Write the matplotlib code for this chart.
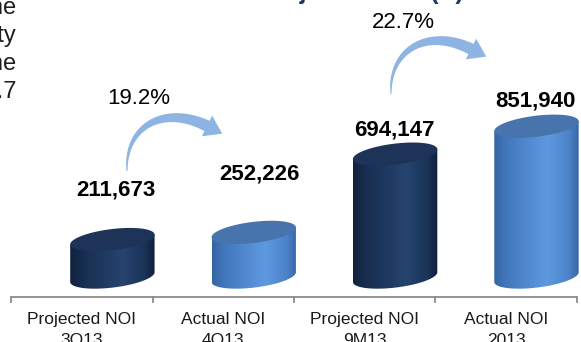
import numpy as np
import matplotlib
matplotlib.use("Agg")
import matplotlib.pyplot as plt
from matplotlib.path import Path
from matplotlib.patches import PathPatch, Polygon
from matplotlib.colors import LinearSegmentedColormap

plt.rcParams["font.family"] = ["Liberation Sans", "DejaVu Sans"]

# ---- data -------------------------------------------------------------
categories = ["Projected NOI\n3Q13", "Actual NOI\n4Q13",
              "Projected NOI\n9M13", "Actual NOI\n2013"]
noi = [211673, 252226, 694147, 851940]
value_labels = ["211,673", "252,226", "694,147", "851,940"]
series_kind = ["projected", "actual", "projected", "actual"]
growth_labels = ["19.2%", "22.7%"]
side_text = ["in line", "property", "baseline", "P1.7"]
title = "Actual vs. Projected NOI (\u20b1)"

# ---- layout -----------------------------------------------------------
W, H = 581, 342
fig = plt.figure(figsize=(W / 100, H / 100), dpi=100)
ax = fig.add_axes([0, 0, 1, 1])
XLIM = (-0.58, 3.53)
YLIM = (-367000, 1565000)
px_x = W / (XLIM[1] - XLIM[0])          # pixels per category unit
px_y = H / (YLIM[1] - YLIM[0])          # pixels per NOI unit

cyl_shift = 0.215                        # cylinders sit right of the category centre
A, B, TILT = 42.5, 10.5, np.deg2rad(7)   # ellipse radii (px) and tilt

cmaps = {
    "projected": LinearSegmentedColormap.from_list(
        "proj", [(0, "#10213d"), (0.15, "#182e50"), (0.62, "#25446e"),
                 (0.88, "#1a3358"), (1, "#0f203b")]),
    "actual": LinearSegmentedColormap.from_list(
        "act", [(0, "#3465a5"), (0.15, "#4377bd"), (0.62, "#5e99e0"),
                (0.88, "#4c83c9"), (1, "#3866a6")]),
}
top_colors = {"projected": "#1d3357", "actual": "#4874ad"}


def ellipse(cx, cy, t):
    t = np.asarray(t, dtype=float)
    dx = A * np.cos(t) * np.cos(TILT) - B * np.sin(t) * np.sin(TILT)
    dy = A * np.cos(t) * np.sin(TILT) + B * np.sin(t) * np.cos(TILT)
    return np.column_stack([cx + dx / px_x, cy + dy / px_y])


grad = np.linspace(0, 1, 256)[None, :]
for i, (v, kind) in enumerate(zip(noi, series_kind)):
    cx = i + cyl_shift
    # body: straight sides plus the front half of the base ellipse
    top_ends = ellipse(cx, v, [np.pi, 0.0])
    base_arc = ellipse(cx, 0, np.linspace(0, -np.pi, 80))
    verts = np.vstack([top_ends, base_arc, top_ends[:1]])
    body = PathPatch(Path(verts, closed=True), facecolor="none",
                     edgecolor="none", zorder=2)
    ax.add_patch(body)
    half = A * np.cos(TILT) / px_x
    im = ax.imshow(grad, cmap=cmaps[kind], aspect="auto",
                   extent=(cx - half, cx + half, -40 / px_y, v + 40 / px_y),
                   zorder=2, interpolation="bilinear")
    im.set_clip_path(body)
    # top face
    ax.add_patch(Polygon(ellipse(cx, v, np.linspace(0, 2 * np.pi, 160)),
                         closed=True, facecolor=top_colors[kind],
                         edgecolor="none", zorder=3))

# value labels above each cylinder (offsets in points)
label_dx = [2.5, 4.3, -0.7, -0.7]
label_dy = [36, 41.8, 17.3, 18]
for i, (v, lab) in enumerate(zip(noi, value_labels)):
    ax.annotate(lab, xy=(i + cyl_shift, v), xytext=(label_dx[i], label_dy[i]),
                textcoords="offset points", ha="center", va="center",
                fontsize=16, fontweight="bold", color="black", zorder=5)

# category axis
y_base = -20.3 / px_y
ax.plot([-0.5, 3.5], [y_base, y_base], color="#8c8c8c", lw=1.3,
        solid_capstyle="butt", zorder=1)
for xt in np.arange(-0.5, 3.51, 1.0):
    ax.plot([xt, xt], [y_base, y_base - 5 / px_y], color="#8c8c8c", lw=1.3,
            zorder=1)
for i, cat in enumerate(categories):
    ax.text(i, y_base - 14.5 / px_y, cat, ha="center", va="top",
            fontsize=12.5, linespacing=1.5, color="#1a1a1a")


# ---- growth arrows ----------------------------------------------------
def P(x, y):
    return (x / W, 1 - y / H)


def curved_arrow(x0, y0, color="#8db4e2"):
    p0 = np.array([x0, y0])
    p1 = p0 + [-2, -46]
    p2 = p0 + [38, -66]
    p3 = p0 + [80, -45]
    t = np.linspace(0, 1, 80)[:, None]
    c = ((1 - t) ** 3) * p0 + 3 * ((1 - t) ** 2) * t * p1 \
        + 3 * (1 - t) * t ** 2 * p2 + t ** 3 * p3
    d = 3 * ((1 - t) ** 2) * (p1 - p0) + 6 * (1 - t) * t * (p2 - p1) \
        + 3 * t ** 2 * (p3 - p2)
    d = d / np.linalg.norm(d, axis=1, keepdims=True)
    n = np.column_stack([-d[:, 1], d[:, 0]])
    w = (1.0 + 10.5 * t[:, 0] ** 0.9)[:, None] / 2
    side_a = c + n * w
    side_b = c - n * w
    end_dir = d[-1]
    end_n = n[-1]
    tip = c[-1] + end_dir * 17
    head = [c[-1] + end_n * 11.5, tip, c[-1] - end_n * 11.5]
    pts = np.vstack([side_a, [head[0]], [tip], [head[2]], side_b[::-1]])
    pts_ax = np.array([P(x, y) for x, y in pts])
    ax.add_patch(Polygon(pts_ax, closed=True, transform=ax.transAxes,
                         facecolor=color, edgecolor="none", zorder=4))


curved_arrow(127, 171)
curved_arrow(391, 94)
ax.text(*P(139, 98.5), growth_labels[0], transform=ax.transAxes,
        ha="center", va="center", fontsize=16, color="black")
ax.text(*P(403, 23), growth_labels[1], transform=ax.transAxes,
        ha="center", va="center", fontsize=16, color="black")

# ---- surrounding slide text -------------------------------------------
ax.text(*P(464, -0.5), title, transform=ax.transAxes, ha="right",
        va="baseline", fontsize=18, fontweight="bold", color="#1f3864",
        clip_on=False)
for k, line in enumerate(side_text):
    ax.text(*P(16.5, 14 + 28 * k), line, transform=ax.transAxes, ha="right",
            va="baseline", fontsize=17, color="#1e1e1e", clip_on=False)

ax.set_xlim(*XLIM)
ax.set_ylim(*YLIM)
ax.axis("off")
fig.savefig("out.png", dpi=100)
